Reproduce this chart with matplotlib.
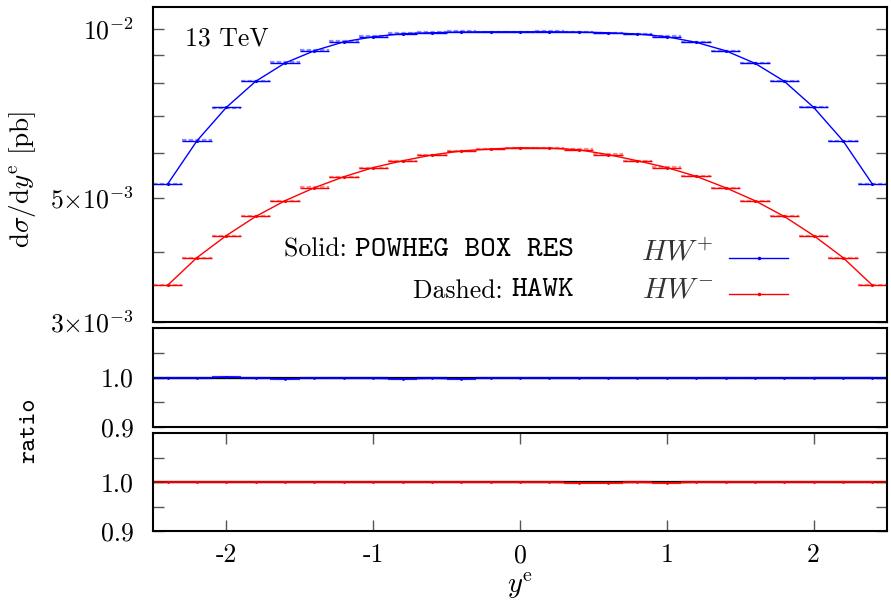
import numpy as np
import matplotlib
matplotlib.use("Agg")
import matplotlib.pyplot as plt
from matplotlib.ticker import FixedLocator, FixedFormatter, NullLocator

plt.rcParams['font.family'] = ['cmr10', 'DejaVu Serif']
plt.rcParams['mathtext.fontset'] = 'cm'
plt.rcParams['axes.unicode_minus'] = False
plt.rcParams['axes.formatter.use_mathtext'] = True

# bins in y^e, width 0.2
bin_edges = [-2.5 + 0.2 * i for i in range(26)]
bin_centers = [-2.4 + 0.2 * i for i in range(25)]

# d sigma / d y^e [pb], POWHEG BOX RES
hw_plus = [5.29e-3, 6.32e-3, 7.25e-3, 8.07e-3, 8.70e-3, 9.15e-3, 9.49e-3, 9.69e-3,
           9.81e-3, 9.85e-3, 9.88e-3, 9.89e-3, 9.89e-3, 9.89e-3, 9.88e-3, 9.85e-3,
           9.80e-3, 9.69e-3, 9.47e-3, 9.15e-3, 8.69e-3, 8.07e-3, 7.25e-3, 6.32e-3,
           5.29e-3]
hw_minus = [3.49e-3, 3.91e-3, 4.28e-3, 4.63e-3, 4.94e-3, 5.21e-3, 5.45e-3, 5.66e-3,
            5.82e-3, 5.96e-3, 6.06e-3, 6.11e-3, 6.14e-3, 6.13e-3, 6.09e-3, 5.97e-3,
            5.82e-3, 5.66e-3, 5.46e-3, 5.21e-3, 4.94e-3, 4.63e-3, 4.28e-3, 3.91e-3,
            3.49e-3]

# ratio POWHEG / HAWK
ratio_plus = [1.000, 0.998, 1.001, 0.999, 0.997, 0.999, 0.998, 0.998, 0.997, 0.998,
              0.997, 0.999, 1.000, 0.998, 0.998, 0.999, 0.999, 0.999, 0.999, 1.000,
              0.999, 0.998, 1.000, 1.000, 1.000]
ratio_minus = [1.000, 1.000, 1.000, 1.000, 1.000, 0.999, 1.000, 1.000, 1.000, 1.000,
               1.000, 0.999, 0.999, 0.999, 0.998, 0.998, 0.999, 0.998, 0.999, 1.000,
               1.000, 1.000, 1.000, 1.001, 1.000]

xticks = [-2, -1, 0, 1, 2]
xticklabels = ['-2', '-1', '0', '1', '2']

fs = 18.5
fs_tt = 21.5
tick_col = '#555555'

fig = plt.figure(figsize=(8.91, 6.06), dpi=100)
left, width = 153 / 891, 734 / 891
ax = fig.add_axes([left, 1 - 322 / 606, width, 315 / 606])
ax1 = fig.add_axes([left, 1 - 427 / 606, width, 99 / 606])
ax2 = fig.add_axes([left, 1 - 531 / 606, width, 98 / 606])


def draw_hist(a, vals, hawk, color):
    for i, v in enumerate(vals):
        a.hlines(v, bin_edges[i], bin_edges[i + 1], color=color, lw=1.0)
        a.hlines(hawk[i], bin_edges[i], bin_edges[i + 1], color=color, lw=1.6,
                 linestyles=(0, (2, 1)), alpha=0.45)
    a.plot(bin_centers, vals, color=color, lw=1.0, marker='.', ms=2.5)


hawk_plus = [v / r for v, r in zip(hw_plus, ratio_plus)]
hawk_minus = [v / r for v, r in zip(hw_minus, ratio_minus)]
draw_hist(ax, hw_plus, hawk_plus, 'blue')
draw_hist(ax, hw_minus, hawk_minus, 'red')

ax.set_yscale('log')
ax.set_ylim(3e-3, 1.095e-2)
ax.set_xlim(-2.5, 2.5)
ax.yaxis.set_major_locator(FixedLocator([3e-3, 5e-3, 1e-2]))
ax.yaxis.set_major_formatter(FixedFormatter([r'$3{\times}10^{-3}$', r'$5{\times}10^{-3}$', r'$10^{-2}$']))
ax.yaxis.set_minor_locator(FixedLocator([4e-3, 6e-3, 7e-3, 8e-3, 9e-3]))
ax.yaxis.set_minor_formatter(FixedFormatter([]))
ax.xaxis.set_major_locator(NullLocator())
ax.xaxis.set_minor_locator(NullLocator())
ax.set_ylabel(r'$\mathrm{d}\sigma/\mathrm{d}y^{\mathrm{e}}$ [pb]', fontsize=19.5)
ax.yaxis.set_label_coords(-0.157, 0.454)

fig.text(185 / 891, 1 - 39 / 606, '13 TeV', fontsize=fs, va='center', ha='left')

# generator labels: roman prefix + typewriter name, right aligned
t1 = fig.text(574 / 891, 1 - 250 / 606, 'POWHEG BOX RES', family='cmtt10', fontsize=fs_tt,
              va='center', ha='right', fontweight='bold')
t2 = fig.text(574 / 891, 1 - 291 / 606, 'HAWK', family='cmtt10', fontsize=fs_tt,
              va='center', ha='right', fontweight='bold')
fig.canvas.draw()
r = fig.canvas.get_renderer()
w1 = t1.get_window_extent(r).width / 891
w2 = t2.get_window_extent(r).width / 891
fig.text(574 / 891 - w1, 1 - 250 / 606, 'Solid: ', fontsize=fs, va='center', ha='right')
fig.text(574 / 891 - w2, 1 - 291 / 606, 'Dashed: ', fontsize=fs, va='center', ha='right')

fig.text(713 / 891, 1 - 253 / 606, r'$HW^{+}$', fontsize=21, color='#333333',
         va='center', ha='right')
fig.text(713 / 891, 1 - 290 / 606, r'$HW^{-}$', fontsize=21, color='#333333',
         va='center', ha='right')
for yy, c in [(258, 'blue'), (294, 'red')]:
    fig.add_artist(plt.Line2D([729 / 891, 788 / 891], [1 - yy / 606] * 2, color=c, lw=1.0,
                              transform=fig.transFigure))
    fig.add_artist(plt.Line2D([758.5 / 891], [1 - yy / 606], color=c, marker='.', ms=3,
                              transform=fig.transFigure))

for a, rat, c in [(ax1, ratio_plus, 'blue'), (ax2, ratio_minus, 'red')]:
    a.axhline(1.0, color='#999999', lw=1.0)
    a.axhline(1.0, color='black', lw=1.6)
    for i, v in enumerate(rat):
        a.hlines(v, bin_edges[i], bin_edges[i + 1], color=c, lw=1.6, alpha=0.8)
    a.plot(bin_centers, rat, color=c, lw=0.8, marker='.', ms=2)
    a.set_xlim(-2.5, 2.5)
    a.set_ylim(0.9, 1.1)
    a.yaxis.set_major_locator(FixedLocator([0.9, 1.0]))
    a.yaxis.set_major_formatter(FixedFormatter(['0.9', '1.0']))
    a.yaxis.set_minor_locator(FixedLocator([0.95, 1.05]))

ax1.xaxis.set_major_locator(NullLocator())
ax1.xaxis.set_minor_locator(NullLocator())
ax2.set_xticks(xticks)
ax2.set_xticklabels(xticklabels)
ax2.xaxis.set_minor_locator(NullLocator())
ax2.set_xlabel(r'$y^{\mathrm{e}}$', fontsize=fs + 2, labelpad=2)
fig.text(30 / 891, 1 - 430 / 606, 'ratio', family='cmtt10', fontsize=18, rotation=90,
         va='center', ha='center', fontweight='bold')

for a in [ax, ax1, ax2]:
    for s in a.spines.values():
        s.set_linewidth(1.5)
    a.tick_params(axis='both', which='both', direction='in', left=True, right=True,
                  top=True, bottom=True, length=8, width=1.0, color=tick_col,
                  labelsize=fs)
    a.tick_params(axis='y', which='both', pad=14)
ax2.tick_params(axis='x', pad=9)

fig.savefig('out.png', dpi=100)
